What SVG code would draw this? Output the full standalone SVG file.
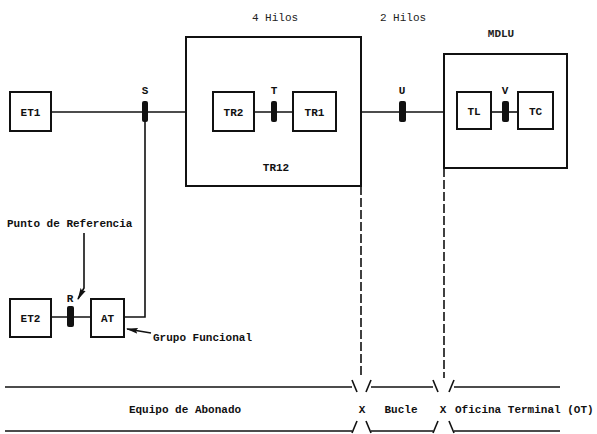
<svg xmlns="http://www.w3.org/2000/svg" width="597" height="434" viewBox="0 0 597 434">
<defs>
<style>
.box{fill:#fff;stroke:#111;stroke-width:2}
.frame{fill:none;stroke:#111;stroke-width:2}
.ln{fill:none;stroke:#111;stroke-width:1.6}
.dash{fill:none;stroke:#111;stroke-width:1.6;stroke-dasharray:9 3}
.plug{fill:#111;stroke:none}
.t{font-family:"Liberation Mono",monospace;font-weight:bold;font-size:11px;fill:#111;text-anchor:middle}
.tl{font-family:"Liberation Mono",monospace;font-weight:bold;font-size:11px;fill:#111}
.th{font-family:"Liberation Mono",monospace;font-size:11px;fill:#222;text-anchor:middle}
</style>
<marker id="ah" viewBox="0 0 12 8" refX="11" refY="4" markerWidth="12" markerHeight="8" markerUnits="userSpaceOnUse" orient="auto">
<path d="M0,1 L12,4 L0,7 L2,4 z" fill="#111"/>
</marker>
</defs>

<g id="TR12">
<rect class="frame" x="186" y="37" width="175" height="149"/>
<text class="t" x="276" y="171">TR12</text>
</g>
<g id="MDLU">
<rect class="frame" x="444" y="54" width="123" height="114"/>
<text class="th" x="501" y="37" font-weight="bold">MDLU</text>
</g>

<g id="connectors">
<line class="ln" x1="51" y1="112" x2="186" y2="112"/>
<line class="ln" x1="254" y1="112" x2="293" y2="112"/>
<line class="ln" x1="361" y1="112" x2="444" y2="112"/>
<line class="ln" x1="491" y1="112" x2="518" y2="112"/>
<polyline class="ln" points="145,112 145,317 124,317"/>
<line class="ln" x1="51" y1="317" x2="91" y2="317"/>
<line class="dash" x1="361" y1="186" x2="361" y2="378"/>
<line class="dash" x1="444" y1="168" x2="444" y2="378"/>
<polyline class="ln" points="84,233 84,288 78,299" marker-end="url(#ah)"/>
<line class="ln" x1="151" y1="333" x2="127" y2="329" marker-end="url(#ah)"/>
</g>

<g id="ET1"><rect class="box" x="10" y="92" width="41" height="39"/><text class="t" x="30.5" y="115.5">ET1</text></g>
<g id="TR2"><rect class="box" x="213" y="92" width="41" height="39"/><text class="t" x="233.5" y="115.5">TR2</text></g>
<g id="TR1"><rect class="box" x="293" y="92" width="43" height="39"/><text class="t" x="314.5" y="115.5">TR1</text></g>
<g id="TL"><rect class="box" x="457" y="92" width="34" height="37"/><text class="t" x="474" y="114.5">TL</text></g>
<g id="TC"><rect class="box" x="518" y="92" width="35" height="37"/><text class="t" x="535.5" y="114.5">TC</text></g>
<g id="ET2"><rect class="box" x="10" y="299" width="41" height="38"/><text class="t" x="30.5" y="322">ET2</text></g>
<g id="AT"><rect class="box" x="91" y="299" width="33" height="38"/><text class="t" x="107.5" y="322">AT</text></g>

<g id="S"><rect class="plug" x="142" y="101" width="6" height="21" rx="2"/><text class="t" x="145" y="94">S</text></g>
<g id="T"><rect class="plug" x="271" y="101" width="6" height="21" rx="2"/><text class="t" x="274" y="94">T</text></g>
<g id="U"><rect class="plug" x="399" y="101" width="7" height="21" rx="2"/><text class="t" x="402" y="94">U</text></g>
<g id="V"><rect class="plug" x="502" y="101" width="7" height="21" rx="2"/><text class="t" x="505" y="94">V</text></g>
<g id="R"><rect class="plug" x="67" y="306" width="7" height="21" rx="2"/><text class="t" x="70" y="302">R</text></g>

<text class="th" x="275" y="21">4 Hilos</text>
<text class="th" x="403" y="21">2 Hilos</text>
<text class="tl" x="7" y="227">Punto de Referencia</text>
<text class="tl" x="153" y="341">Grupo Funcional</text>

<g id="band">
<polyline class="ln" points="5,387 352,387"/>
<line class="ln" x1="352" y1="380" x2="357" y2="392"/>
<line class="ln" x1="366" y1="392" x2="371" y2="380"/>
<polyline class="ln" points="371,387 433,387"/>
<line class="ln" x1="433" y1="380" x2="438" y2="392"/>
<line class="ln" x1="449" y1="392" x2="454" y2="380"/>
<polyline class="ln" points="454,387 560,387"/>
<polyline class="ln" points="5,431 352,431"/>
<line class="ln" x1="352" y1="433" x2="357" y2="421"/>
<line class="ln" x1="366" y1="421" x2="371" y2="433"/>
<polyline class="ln" points="371,431 433,431"/>
<line class="ln" x1="433" y1="433" x2="438" y2="421"/>
<line class="ln" x1="449" y1="421" x2="454" y2="433"/>
<polyline class="ln" points="454,431 560,431"/>
<text class="t" x="185" y="413">Equipo de Abonado</text>
<text class="t" x="362" y="413">X</text>
<text class="t" x="401" y="413">Bucle</text>
<text class="t" x="443" y="413">X</text>
<text class="tl" x="455" y="413">Oficina Terminal (OT)</text>
</g>
</svg>
